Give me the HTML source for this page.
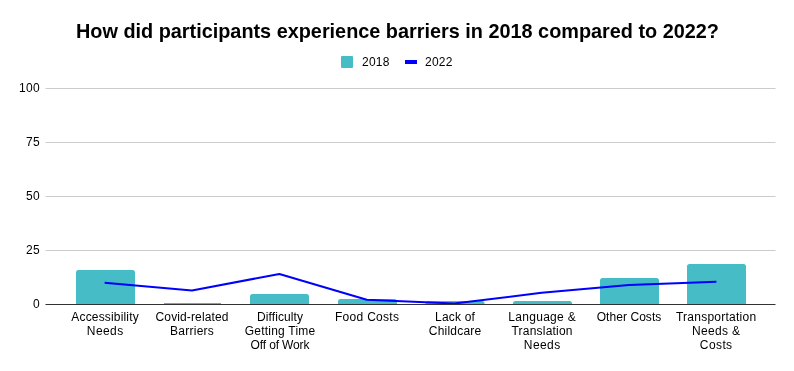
<!DOCTYPE html>
<html><head><meta charset="utf-8"><style>
html,body{margin:0;padding:0;background:#fff;}
body{width:794px;height:371px;position:relative;overflow:hidden;font-family:"Liberation Sans",sans-serif;}
.title{position:absolute;left:76px;top:20px;white-space:nowrap;font-weight:bold;font-size:19.85px;line-height:22px;color:#000;}
.yl{position:absolute;right:754.4px;font-size:12px;line-height:14px;color:#000;text-align:right;letter-spacing:0.3px;}
.xl{position:absolute;top:310px;width:100px;text-align:center;font-size:12px;line-height:14px;color:#000;letter-spacing:0.2px;}
.leg{position:absolute;font-size:12px;line-height:14px;color:#000;letter-spacing:0.25px;}
svg{position:absolute;left:0;top:0;}
.title,.yl,.xl,.leg{will-change:transform;}
</style></head><body>
<svg width="794" height="371" viewBox="0 0 794 371">
<rect x="45.5" y="88" width="730" height="1" fill="#cccccc"/>
<rect x="45.5" y="142" width="730" height="1" fill="#cccccc"/>
<rect x="45.5" y="196" width="730" height="1" fill="#cccccc"/>
<rect x="45.5" y="250" width="730" height="1" fill="#cccccc"/>
<path d="M76.00,304.5 V272.50 A2.5,2.5 0 0 1 78.50,270.00 H132.50 A2.5,2.5 0 0 1 135.00,272.50 V304.5 Z" fill="#46bdc6"/>
<rect x="164.00" y="303.00" width="57.0" height="1.50" fill="#46bdc6"/>
<path d="M250.00,304.5 V296.50 A2.5,2.5 0 0 1 252.50,294.00 H306.50 A2.5,2.5 0 0 1 309.00,296.50 V304.5 Z" fill="#46bdc6"/>
<path d="M338.00,304.5 V301.50 A2.5,2.5 0 0 1 340.50,299.00 H394.50 A2.5,2.5 0 0 1 397.00,301.50 V304.5 Z" fill="#46bdc6"/>
<path d="M425.50,304.5 V303.50 A2.5,2.5 0 0 1 428.00,301.00 H482.00 A2.5,2.5 0 0 1 484.50,303.50 V304.5 Z" fill="#46bdc6"/>
<path d="M513.00,304.5 V303.50 A2.5,2.5 0 0 1 515.50,301.00 H569.50 A2.5,2.5 0 0 1 572.00,303.50 V304.5 Z" fill="#46bdc6"/>
<path d="M600.00,304.5 V280.50 A2.5,2.5 0 0 1 602.50,278.00 H656.50 A2.5,2.5 0 0 1 659.00,280.50 V304.5 Z" fill="#46bdc6"/>
<path d="M687.00,304.5 V266.50 A2.5,2.5 0 0 1 689.50,264.00 H743.50 A2.5,2.5 0 0 1 746.00,266.50 V304.5 Z" fill="#46bdc6"/>
<polyline points="104.60,282.80 192.00,290.40 279.40,274.00 366.80,299.70 454.20,303.60 541.60,292.80 629.00,285.10 716.40,281.70" fill="none" stroke="#0000ff" stroke-width="2" stroke-linejoin="round" stroke-linecap="butt"/>
<rect x="45.5" y="304" width="730" height="1" fill="#333333"/>
<rect x="341" y="56" width="12" height="12" rx="1" fill="#46bdc6"/>
<rect x="405" y="60" width="12" height="4" fill="#0000ff"/>
</svg>
<div class="title">How did participants experience barriers in 2018 compared to 2022?</div>
<div class="leg" style="left:361.5px;top:55px">2018</div>
<div class="leg" style="left:425.1px;top:55px">2022</div>
<div class="yl" style="top:81.0px">100</div>
<div class="yl" style="top:135.0px">75</div>
<div class="yl" style="top:189.0px">50</div>
<div class="yl" style="top:243.0px">25</div>
<div class="yl" style="top:297.0px">0</div>
<div class="xl" style="left:54.60px"><span style="letter-spacing:0.17px;margin-right:-0.17px">Accessibility</span><br><span style="letter-spacing:0.4px;margin-right:-0.40px">Needs</span></div>
<div class="xl" style="left:141.60px"><span style="letter-spacing:0.12px;margin-right:-0.12px">Covid-related</span><br><span style="letter-spacing:0.25px;margin-right:-0.25px">Barriers</span></div>
<div class="xl" style="left:229.50px"><span style="letter-spacing:0.09px;margin-right:-0.09px">Difficulty</span><br><span style="letter-spacing:0.23px;margin-right:-0.23px">Getting Time</span><br><span style="letter-spacing:-0.13px;margin-right:0.13px">Off of Work</span></div>
<div class="xl" style="left:317.00px"><span style="letter-spacing:0.29px;margin-right:-0.29px">Food Costs</span></div>
<div class="xl" style="left:404.60px"><span style="letter-spacing:0.18px;margin-right:-0.18px">Lack of</span><br><span style="letter-spacing:0.2px;margin-right:-0.20px">Childcare</span></div>
<div class="xl" style="left:491.90px"><span style="letter-spacing:0.3px;margin-right:-0.30px">Language &amp;</span><br><span style="letter-spacing:0.21px;margin-right:-0.21px">Translation</span><br><span style="letter-spacing:0.4px;margin-right:-0.40px">Needs</span></div>
<div class="xl" style="left:578.80px"><span style="letter-spacing:0.07px;margin-right:-0.07px">Other Costs</span></div>
<div class="xl" style="left:666.00px"><span style="letter-spacing:0.25px;margin-right:-0.25px">Transportation</span><br><span style="letter-spacing:0.35px;margin-right:-0.35px">Needs &amp;</span><br><span style="letter-spacing:0.4px;margin-right:-0.40px">Costs</span></div>
</body></html>
